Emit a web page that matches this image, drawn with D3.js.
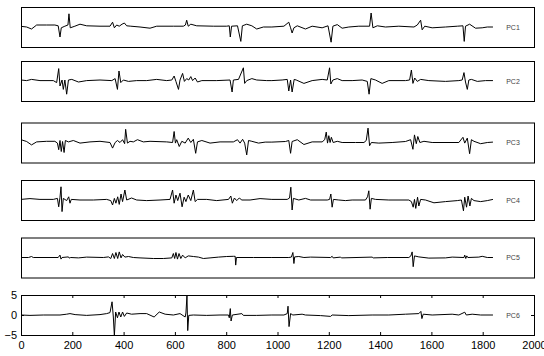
<!DOCTYPE html>
<html>
<head>
<meta charset="utf-8">
<script src="https://cdn.jsdelivr.net/npm/d3@7/dist/d3.min.js"></script>
<style>
  body { margin: 0; background: #fff; }
  text { font-family: "Liberation Sans", Arial, sans-serif; }
</style>
</head>
<body>
<svg id="chart" width="544" height="356"></svg>
<script>
// component names, one per panel
const names = ["PC1", "PC2", "PC3", "PC4", "PC5", "PC6"];
const xTicks = [0, 200, 400, 600, 800, 1000, 1200, 1400, 1600, 1800, 2000];
const yTicks = [-5, 0, 5];

// vertices [sample, value]
const pc1 = [[0,0.17],[22,0],[41,-0.5],[61,0.5],[100,0.5],[132,0.5],[145,0.3],[152,-2.5],[157,-0.2],[171,0.2],[183,0.5],[187,3.3],[192,-0.2],[210,0.2],[230,0.7],[256,0.3],[308,0.2],[347,0.2],[357,1.2],[364,-0.2],[373,0.5],[383,0.2],[394,0.7],[403,1.0],[412,0.3],[428,0.2],[464,0],[503,-0.3],[529,0.2],[594,0.2],[633,0.2],[641,0.5],[646,1.7],[652,0.2],[662,0.7],[685,0.3],[750,0.2],[802,0.2],[812,0.3],[816,-2.5],[821,0.2],[844,0.3],[857,-3.6],[863,0.3],[880,0.7],[900,0.3],[919,-0.5],[945,0],[978,0],
  [1025,0.2],[1044,1.2],[1051,-0.2],[1057,-1.5],[1064,-0.2],[1077,0.3],[1109,-0.5],[1135,0.2],[1174,-0.2],[1197,0.3],[1209,-3.8],[1216,0.2],[1233,0.6],[1252,-0.3],[1278,0],[1317,0.2],[1359,0.2],[1365,3.5],[1372,-0.2],[1389,0.3],[1421,0],[1473,0.2],[1532,0],[1545,0.5],[1558,1.7],[1564,-0.7],[1574,0.2],[1603,-0.2],[1655,0],[1701,0.2],[1723,0.3],[1728,-3.6],[1733,0.2],[1749,0.7],[1772,-0.3],[1798,-0.2],[1818,0],[1840,0]];

const pc2 = [[0,0.25],[22,0.1],[41,0.4],[74,0.1],[126,0.1],[139,-0.4],[147,3.1],[152,-1.25],[160,0.25],[165,-2.1],[171,0.25],[178,-3.3],[185,0.25],[198,0.4],[224,-0.25],[256,0.1],[308,0.25],[354,0.1],[367,0.6],[376,-2.1],[382,2.5],[389,-0.4],[399,0.25],[419,-0.1],[451,0.1],[490,0.1],[529,0.4],[568,0.1],[588,0.25],[597,1.25],[604,-0.1],[614,-2.1],[620,0.25],[630,1.9],[637,-0.1],[646,0.6],[654,0.25],[662,1.1],[669,0.1],[679,0.75],[688,-0.25],[705,0.1],[763,0.1],[815,0.25],[823,-2.75],[828,0.25],[848,0.4],[867,3.3],[872,-0.6],[880,0.1],[900,0.6],[919,0.25],[958,0.1],[978,0.1],
  [1018,0.25],[1038,0.4],[1044,-2.5],[1051,0.25],[1057,-2.75],[1065,0.4],[1073,0.25],[1103,-0.6],[1135,0.1],[1174,0.4],[1194,0.25],[1203,3.3],[1208,-0.75],[1216,0.25],[1233,0.6],[1252,0.1],[1291,0.1],[1330,0.25],[1350,-0.1],[1357,-3.3],[1364,0.6],[1382,0.25],[1408,-0.6],[1434,0.1],[1499,0.1],[1515,0.25],[1522,2.75],[1528,-0.6],[1535,0.75],[1545,-0.1],[1558,0.4],[1590,0.1],[1655,-0.1],[1707,0.1],[1720,0.25],[1727,2.1],[1733,-0.25],[1740,-2.1],[1746,0.25],[1756,0.4],[1779,-0.1],[1811,0.1],[1840,0.1]];

const pc3 = [[0,0.7],[22,0.25],[41,-0.6],[61,0.15],[100,0.3],[132,0.3],[142,-0.15],[147,-1.8],[152,0.5],[157,-2.25],[162,0.25],[168,-2.5],[173,0.5],[185,0.15],[204,0.5],[230,-0.15],[269,0.15],[308,0.3],[347,0],[357,-1.4],[367,0],[376,0.5],[386,0],[396,0.7],[404,-0.3],[408,3.3],[415,-0.15],[425,0.3],[438,0.15],[454,0.7],[477,0.15],[503,0.3],[568,0.15],[591,0],[597,2.75],[602,-0.15],[607,0.7],[617,-1.0],[627,0.3],[640,-0.15],[652,1.1],[662,0],[672,0.8],[681,-2.7],[688,0.15],[705,0.5],[737,-0.15],[776,0.15],[828,0.15],[844,0.7],[854,-0.15],[864,0.8],[872,-0.15],[880,-3.1],[887,0.5],[900,0.3],[926,-0.15],[952,0.1],[978,0.1],
  [1031,0.25],[1044,0.5],[1051,-2.7],[1057,0.25],[1077,0.7],[1103,-0.5],[1135,0.15],[1174,0.15],[1184,0.7],[1190,2.6],[1195,-0.15],[1200,1.7],[1205,0],[1210,1.3],[1217,0],[1233,0.3],[1252,0],[1304,0],[1337,0],[1346,0.5],[1353,3.6],[1359,-0.8],[1366,0],[1395,-0.15],[1447,0],[1499,0.25],[1519,0.7],[1528,-1.7],[1534,1.9],[1541,-0.3],[1547,1.5],[1555,0],[1571,0.3],[1603,0],[1707,0],[1723,1.3],[1730,-0.15],[1740,1.1],[1749,-2.8],[1756,0.7],[1766,0.3],[1792,-0.3],[1818,0],[1840,0.1]];

const pc4 = [[0,0.15],[35,0.35],[74,0.15],[126,0.15],[142,0.4],[147,-1.7],[152,0.7],[156,3.3],[160,-2.9],[165,0.4],[178,-0.15],[186,0.8],[191,-0.8],[196,0.15],[230,0],[282,0],[334,0.15],[350,-0.15],[357,-1.25],[364,0.4],[370,-0.8],[377,0.8],[383,-1.1],[390,1.5],[396,-0.4],[405,2.5],[412,0],[431,0.5],[451,0],[490,-0.15],[542,0],[581,0.15],[591,2.5],[597,-0.8],[604,1.25],[611,-0.15],[620,1.7],[628,-1.7],[636,0.7],[643,-0.4],[652,1.25],[662,-0.15],[672,2.5],[679,-0.4],[688,0.15],[724,0.15],[763,-0.15],[809,0.15],[818,1.0],[824,-0.8],[832,0.5],[841,-0.15],[851,0.5],[861,0],[893,0],[932,0.35],[978,0.15],
  [1038,0.15],[1047,0.5],[1052,3.2],[1057,-2.5],[1062,0.4],[1083,0],[1109,0.4],[1129,0],[1194,0],[1203,0.15],[1208,1.5],[1213,-1.8],[1218,0.15],[1239,0],[1265,-0.15],[1291,0],[1343,0],[1351,0.8],[1356,2.3],[1361,-2.3],[1366,0.4],[1382,0.15],[1434,0],[1512,0],[1522,-0.4],[1529,-1.8],[1534,0.15],[1539,-2.1],[1546,0.7],[1551,-1.5],[1558,0.15],[1577,0],[1610,-0.7],[1655,-0.4],[1701,-0.15],[1717,0],[1725,-2.7],[1730,0.7],[1737,-1.8],[1743,1.0],[1750,-1.5],[1756,0.4],[1766,-0.15],[1792,-0.4],[1818,-0.15],[1840,0.15]];

const pc5 = [[0,0],[29,0],[41,0.25],[48,0],[145,0],[152,0.6],[156,-0.4],[160,0],[185,0.15],[188,-0.15],[194,0],[224,-0.1],[256,0.1],[321,0],[341,0.15],[350,-0.25],[357,1.0],[364,-0.25],[370,1.25],[377,-0.25],[383,1.4],[390,-0.1],[396,0.75],[405,0.1],[419,0.25],[438,0],[464,-0.1],[516,-0.25],[555,-0.25],[588,-0.1],[594,1.0],[599,-0.25],[604,1.25],[610,-0.4],[616,1.0],[623,-0.25],[630,0.6],[640,-0.1],[652,0.4],[672,0.25],[692,0.1],[711,-0.25],[737,-0.1],[770,0.1],[802,0.25],[828,0.3],[835,0.3],[837,-1.9],[840,0],[906,0],[978,0],
  [1044,0],[1054,0.1],[1060,1.25],[1064,-1.5],[1067,0.15],[1083,0.25],[1103,0],[1129,0.1],[1207,0],[1213,0.3],[1217,-0.1],[1246,0.1],[1249,-0.1],[1369,0.1],[1373,-0.1],[1428,0],[1512,0],[1520,0.4],[1525,1.4],[1529,-2.3],[1534,0.4],[1551,0.15],[1590,-0.15],[1655,-0.1],[1681,0.1],[1727,0],[1730,0.6],[1734,-0.25],[1738,0.4],[1742,0],[1785,0.1],[1798,0.3],[1818,0],[1840,0]];

const pc6 = [[0,0],[35,-0.1],[87,0],[152,0],[178,0.2],[191,0.35],[211,0.1],[256,-0.1],[308,0.1],[334,0.35],[347,0.6],[355,3.3],[360,-0.5],[364,-5.2],[369,0.75],[376,-0.7],[382,0.75],[389,-0.5],[396,0.75],[403,-0.35],[412,0.5],[431,0.2],[464,0.35],[490,0.35],[519,-0.5],[539,0.75],[562,0.2],[594,0],[620,0.35],[640,-0.5],[643,0.5],[647,4.8],[650,-3.9],[654,-0.1],[672,0],[724,-0.1],[776,0],[809,0],[812,-0.7],[816,1.6],[819,-1.5],[824,0],[861,0.35],[867,-0.1],[919,-0.1],[978,0],
  [1025,0],[1038,0.35],[1041,2.2],[1045,-2.9],[1051,0.35],[1060,0],[1096,0.2],[1109,0],[1168,-0.15],[1207,-0.35],[1213,0],[1278,-0.15],[1369,0],[1434,0],[1499,0.2],[1551,0.35],[1559,0.9],[1563,-0.9],[1568,0.2],[1603,0],[1681,0.2],[1707,0],[1730,0.7],[1736,0],[1759,0.2],[1792,0],[1840,0]];

const series = [pc1, pc2, pc3, pc4, pc5, pc6];

// layout
const left = 21, right = 534, panelH = 40;
const panelTops = [7, 61, 122.5, 180, 237.5, 295];

const svg = d3.select("#chart");
const x = d3.scaleLinear().domain([0, 2000]).range([left, right]);

series.forEach((data, i) => {
  const top = panelTops[i];
  const y = d3.scaleLinear().domain([-5, 5]).range([top + panelH, top]);
  const g = svg.append("g");

  g.append("clipPath")
    .attr("id", "clip" + i)
    .append("rect")
    .attr("x", left).attr("y", top)
    .attr("width", right - left).attr("height", panelH);

  const line = d3.line()
    .x(d => x(d[0]))
    .y(d => y(d[1]));

  g.append("path")
    .datum(data)
    .attr("clip-path", "url(#clip" + i + ")")
    .attr("fill", "none")
    .attr("stroke", "#000")
    .attr("stroke-width", 1)
    .attr("stroke-linejoin", "round")
    .attr("d", line);

  g.append("rect")
    .attr("x", left + 0.5).attr("y", top + 0.5)
    .attr("width", right - left).attr("height", panelH)
    .attr("fill", "none")
    .attr("stroke", "#000")
    .attr("stroke-width", 1);

  g.append("text")
    .attr("x", 513)
    .attr("y", top + panelH / 2 + 2.5)
    .attr("text-anchor", "middle")
    .style("font-size", "7px")
    .style("fill", "#444")
    .text(names[i]);

  // only the bottom panel carries axes
  if (i === series.length - 1) {
    const bottom = g.append("g")
      .attr("transform", "translate(0," + (top + panelH) + ")")
      .call(d3.axisBottom(x).tickValues(xTicks).tickFormat(d3.format("d"))
        .tickSizeInner(-3).tickSizeOuter(0).tickPadding(6));
    const topAx = g.append("g")
      .attr("transform", "translate(0," + top + ")")
      .call(d3.axisTop(x).tickValues(xTicks).tickFormat("")
        .tickSizeInner(-3).tickSizeOuter(0));
    const leftAx = g.append("g")
      .attr("transform", "translate(" + left + ",0)")
      .call(d3.axisLeft(y).tickValues(yTicks)
        .tickSizeInner(-3).tickSizeOuter(0).tickPadding(4));
    const rightAx = g.append("g")
      .attr("transform", "translate(" + right + ",0)")
      .call(d3.axisRight(y).tickValues(yTicks).tickFormat("")
        .tickSizeInner(-3).tickSizeOuter(0));
    [bottom, topAx, leftAx, rightAx].forEach(a => {
      a.select(".domain").remove();
      a.selectAll("text").style("font-size", "11px").style("fill", "#000");
      a.selectAll("line").attr("stroke", "#000");
    });
  }
});
</script>
</body>
</html>
